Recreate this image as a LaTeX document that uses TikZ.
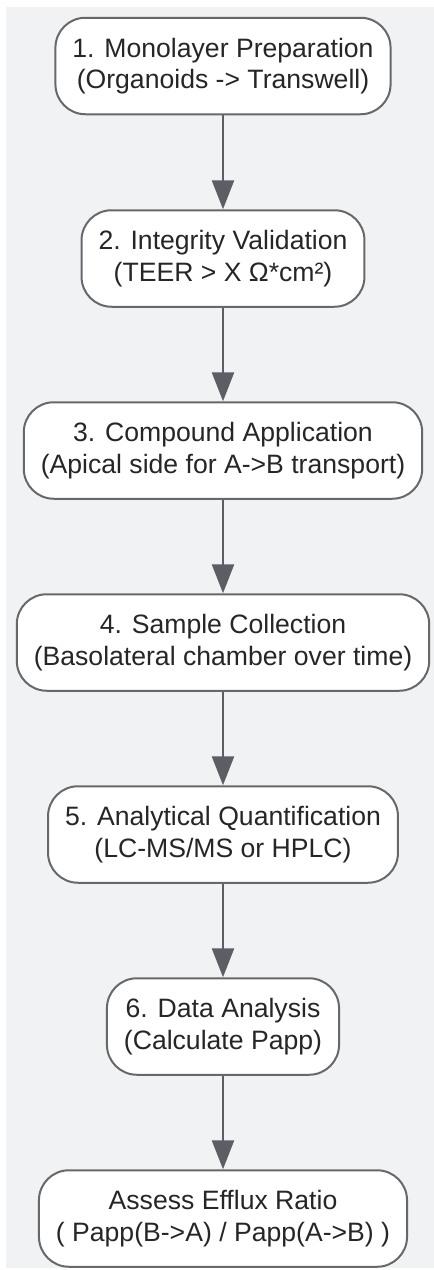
\documentclass[tikz,border=0pt]{standalone}
\usepackage{fontspec}
\setmainfont{Liberation Sans}
\usetikzlibrary{arrows.meta}
\definecolor{bgpanel}{HTML}{F1F2F4}
\definecolor{boxline}{HTML}{66686C}
\definecolor{flowline}{HTML}{5B5E62}
\tikzset{
  stepbox/.style={draw=boxline, line width=2pt, fill=white, rounded corners=30pt,
    minimum height=96.5pt, inner xsep=17pt, align=center,
    font=\fontsize{26.6}{31.5}\selectfont, text=black!85},
  flow/.style={draw=flowline, line width=2.6pt,
    -{Triangle[width=22pt,length=29pt]}},
}
\begin{document}
\begin{tikzpicture}[x=1pt, y=-1pt]
  \useasboundingbox (0,0) rectangle (434,1270);
  \fill[bgpanel] (6,7) rectangle (434,1268);

  % Protocol steps
  \node[stepbox] (prep) at (223, 66) {1. Monolayer Preparation\\(Organoids -> Transwell)};
  \node[stepbox] (teer) at (223, 258.5) {2. Integrity Validation\\(TEER > X Ω*cm²)};
  \node[stepbox] (dose) at (223, 450.5) {3. Compound Application\\(Apical side for A->B transport)};
  \node[stepbox] (samp) at (223, 642.5) {4. Sample Collection\\(Basolateral chamber over time)};
  \node[stepbox] (quant) at (223, 834.5) {5. Analytical Quantification\\(LC-MS/MS or HPLC)};
  \node[stepbox] (calc) at (223, 1026.5) {6. Data Analysis\\(Calculate Papp)};
  \node[stepbox] (ratio) at (223, 1218.5) {Assess Efflux Ratio\\( Papp(B->A) / Papp(A->B) )};

  \draw[flow] (prep) -- (teer);
  \draw[flow] (teer) -- (dose);
  \draw[flow] (dose) -- (samp);
  \draw[flow] (samp) -- (quant);
  \draw[flow] (quant) -- (calc);
  \draw[flow] (calc) -- (ratio);
\end{tikzpicture}
\end{document}
